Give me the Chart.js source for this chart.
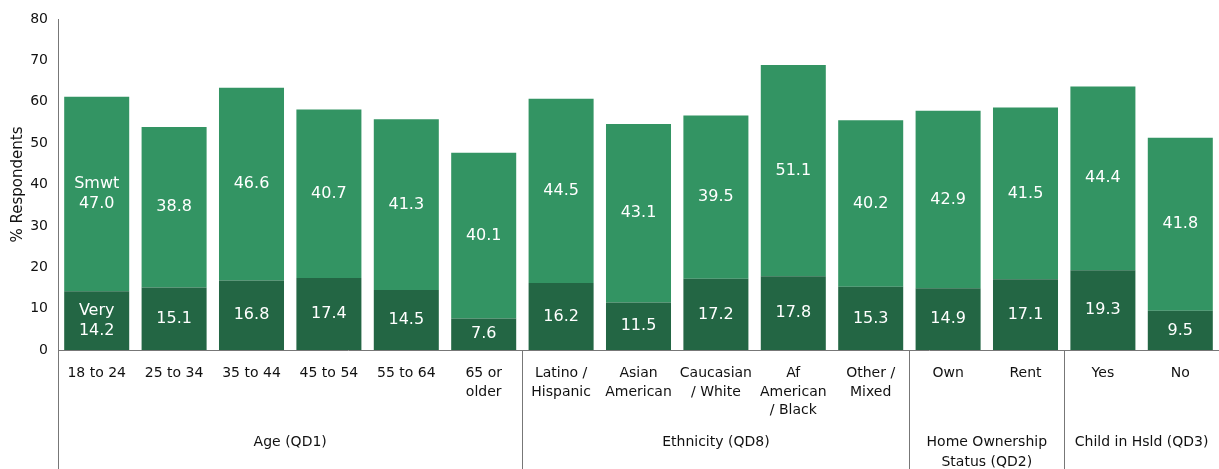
<!DOCTYPE html>
<html>
<head>
<meta charset="utf-8">
<script src="https://cdn.jsdelivr.net/npm/chart.js@4"></script>
<style>
  html, body { margin: 0; padding: 0; background: #fff; }
  #wrap { width: 1219px; height: 469px; position: relative; }
</style>
</head>
<body>
<div id="wrap"><canvas id="respChart"></canvas></div>
<script>
// categories, grouped by question
const categories = [
    ['18 to 24'], ['25 to 34'], ['35 to 44'], ['45 to 54'], ['55 to 64'], ['65 or', 'older'],
    ['Latino /', 'Hispanic'], ['Asian', 'American'], ['Caucasian', '/ White'], ['Af', 'American', '/ Black'], ['Other /', 'Mixed'],
    ['Own'], ['Rent'],
    ['Yes'], ['No']
];
const groupNames = [['Age (QD1)'], ['Ethnicity (QD8)'], ['Home Ownership', 'Status (QD2)'], ['Child in Hsld (QD3)']];
const groupSizes = [6, 5, 2, 2];

// % respondents
const veryValues = [14.2, 15.1, 16.8, 17.4, 14.5, 7.6, 16.2, 11.5, 17.2, 17.8, 15.3, 14.9, 17.1, 19.3, 9.5];
const smwtValues = [47.0, 38.8, 46.6, 40.7, 41.3, 40.1, 44.5, 43.1, 39.5, 51.1, 40.2, 42.9, 41.5, 44.4, 41.8];
const yTicks = [0, 10, 20, 30, 40, 50, 60, 70, 80];

const FONT = 'DejaVu Sans';
const AXIS_COLOR = '#777';

// white values inside each bar segment, series name on the first bar
const barLabels = {
    id: 'barLabels',
    afterDatasetsDraw(chart) {
        const ctx = chart.ctx;
        ctx.save();
        ctx.fillStyle = '#fff';
        ctx.font = '16px "' + FONT + '"';
        ctx.textAlign = 'center';
        ctx.textBaseline = 'middle';
        chart.data.datasets.forEach((ds, di) => {
            chart.getDatasetMeta(di).data.forEach((bar, i) => {
                const mid = (bar.y + bar.base) / 2;
                const txt = ds.data[i].toFixed(1);
                if (i === 0) {
                    ctx.fillText(ds.label, bar.x, mid - 10);
                    ctx.fillText(txt, bar.x, mid + 10);
                } else {
                    ctx.fillText(txt, bar.x, mid);
                }
            });
        });
        ctx.restore();
    }
};

// group separators and group titles under the category labels
const groupAxis = {
    id: 'groupAxis',
    afterDraw(chart) {
        const ctx = chart.ctx;
        const x = chart.scales.x;
        const area = chart.chartArea;
        const bottom = chart.height;
        const half = (x.getPixelForValue(1) - x.getPixelForValue(0)) / 2;
        ctx.save();
        ctx.strokeStyle = AXIS_COLOR;
        ctx.lineWidth = 1;
        // y axis runs down through the label area
        ctx.beginPath();
        ctx.moveTo(Math.round(area.left) + 0.5, area.bottom);
        ctx.lineTo(Math.round(area.left) + 0.5, bottom);
        ctx.stroke();

        ctx.fillStyle = '#111';
        ctx.font = '14px "' + FONT + '"';
        ctx.textAlign = 'center';
        ctx.textBaseline = 'middle';
        let start = 0;
        groupSizes.forEach((n, g) => {
            const end = start + n - 1;
            const left = x.getPixelForValue(start) - half;
            const right = x.getPixelForValue(end) + half;
            if (g > 0) {
                const sx = Math.round(left) + 0.5;
                ctx.beginPath();
                ctx.moveTo(sx, area.bottom);
                ctx.lineTo(sx, bottom);
                ctx.stroke();
            }
            groupNames[g].forEach((line, li) => {
                ctx.fillText(line, (left + right) / 2, 442 + li * 20);
            });
            start += n;
        });
        ctx.restore();
    }
};

const ctx = document.getElementById('respChart').getContext('2d');
const respChart = new Chart(ctx, {
    type: 'bar',
    data: {
        labels: categories,
        datasets: [
            {
                label: 'Very',
                data: veryValues,
                backgroundColor: '#236644',
                barPercentage: 0.84,
                categoryPercentage: 1.0,
                inflateAmount: 0
            },
            {
                label: 'Smwt',
                data: smwtValues,
                backgroundColor: '#339463',
                barPercentage: 0.84,
                categoryPercentage: 1.0,
                inflateAmount: 0
            }
        ]
    },
    options: {
        responsive: true,
        maintainAspectRatio: false,
        animation: false,
        layout: { padding: { top: 19, right: 0, bottom: 0, left: 0 } },
        plugins: {
            legend: { display: false },
            tooltip: { enabled: false }
        },
        scales: {
            x: {
                stacked: true,
                grid: { display: false, drawTicks: false },
                border: { color: AXIS_COLOR },
                ticks: {
                    color: '#111',
                    font: { family: FONT, size: 14, lineHeight: 1.33 },
                    padding: 14,
                    maxRotation: 0,
                    autoSkip: false
                },
                afterFit(scale) { scale.height = 119; }
            },
            y: {
                stacked: true,
                min: 0,
                max: 80,
                afterBuildTicks(scale) { scale.ticks = yTicks.map(v => ({ value: v })); },
                grid: { display: false, drawTicks: false },
                border: { color: AXIS_COLOR },
                ticks: {
                    color: '#111',
                    font: { family: FONT, size: 14 },
                    padding: 10
                },
                title: {
                    display: true,
                    text: '% Respondents',
                    color: '#111',
                    font: { family: FONT, size: 15 },
                    padding: { top: 9, bottom: 0 }
                },
                afterFit(scale) { scale.width = 58; }
            }
        }
    },
    plugins: [barLabels, groupAxis]
});
</script>
</body>
</html>
